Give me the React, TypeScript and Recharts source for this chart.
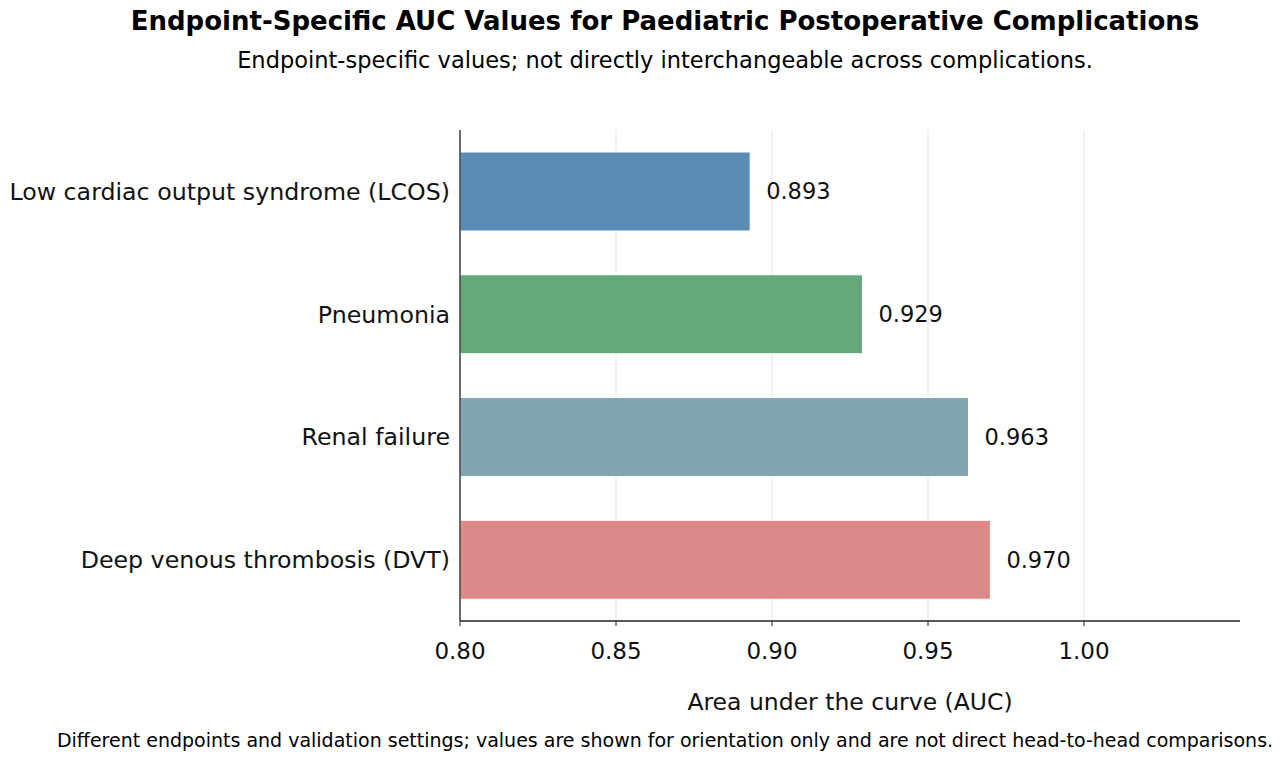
import { BarChart, Bar, XAxis, YAxis, CartesianGrid, Cell, LabelList } from "recharts";

const endpoints = [
  "Low cardiac output syndrome (LCOS)",
  "Pneumonia",
  "Renal failure",
  "Deep venous thrombosis (DVT)",
];
const aucValues = [0.893, 0.929, 0.963, 0.97];
const barColors = ["#5A8DB6", "#65A87C", "#82A4B3", "#DB8A88"];
const xTicks = [0.8, 0.85, 0.9, 0.95, 1.0];

const data = endpoints.map((name, i) => ({ name, auc: aucValues[i] }));

const FONT = "'DejaVu Sans', sans-serif";

export default function App() {
  return (
    <div
      style={{
        position: "absolute",
        left: 0,
        top: 0,
        width: 1286,
        height: 761,
        background: "#fff",
        fontFamily: FONT,
        color: "#000",
      }}
    >
      <div
        style={{
          position: "absolute",
          top: 6,
          left: 0,
          width: 1330,
          textAlign: "center",
          fontSize: 26,
          fontWeight: "bold",
        }}
      >
        Endpoint-Specific AUC Values for Paediatric Postoperative Complications
      </div>
      <div
        style={{
          position: "absolute",
          top: 47,
          left: 0,
          width: 1330,
          textAlign: "center",
          fontSize: 22.5,
        }}
      >
        Endpoint-specific values; not directly interchangeable across complications.
      </div>

      <BarChart
        width={1286}
        height={761}
        data={data}
        layout="vertical"
        margin={{ top: 130, right: 46, bottom: 0, left: 10 }}
        barSize={79}
      >
        {/* grid only at the tick positions, not at the plot edges */}
        <CartesianGrid horizontal={false} stroke="#e3e3e3" strokeWidth={1} syncWithTicks />
        <XAxis
          type="number"
          domain={[0.8, 1.05]}
          ticks={xTicks}
          allowDataOverflow
          tickFormatter={(v: number) => v.toFixed(2)}
          height={140}
          tick={{ fontSize: 23, fill: "#111", fontFamily: FONT }}
          tickSize={5}
          tickMargin={17}
          stroke="#222"
          axisLine={{ stroke: "#222", strokeWidth: 1.3 }}
          tickLine={{ stroke: "#222", strokeWidth: 1 }}
          label={{
            value: "Area under the curve (AUC)",
            position: "insideTop",
            offset: 72,
            fontSize: 23.5,
            fill: "#111",
            fontFamily: FONT,
          }}
        />
        <YAxis
          type="category"
          dataKey="name"
          width={450}
          tickLine={false}
          tickSize={0}
          tickMargin={10}
          axisLine={{ stroke: "#222", strokeWidth: 1.3 }}
          tick={{ fontSize: 23.7, fill: "#111", fontFamily: FONT }}
        />
        <Bar dataKey="auc" isAnimationActive={false} stroke="#fff" strokeWidth={1}>
          {data.map((d, i) => (
            <Cell key={d.name} fill={barColors[i]} />
          ))}
          <LabelList
            dataKey="auc"
            position="right"
            offset={16}
            formatter={(v: number) => v.toFixed(3)}
            style={{ fontSize: 22.5, fill: "#111", fontFamily: FONT }}
          />
        </Bar>
      </BarChart>

      <div
        style={{
          position: "absolute",
          top: 729,
          left: 0,
          width: 1330,
          textAlign: "center",
          fontSize: 19,
        }}
      >
        Different endpoints and validation settings; values are shown for orientation only and are not direct head-to-head comparisons.
      </div>
    </div>
  );
}
